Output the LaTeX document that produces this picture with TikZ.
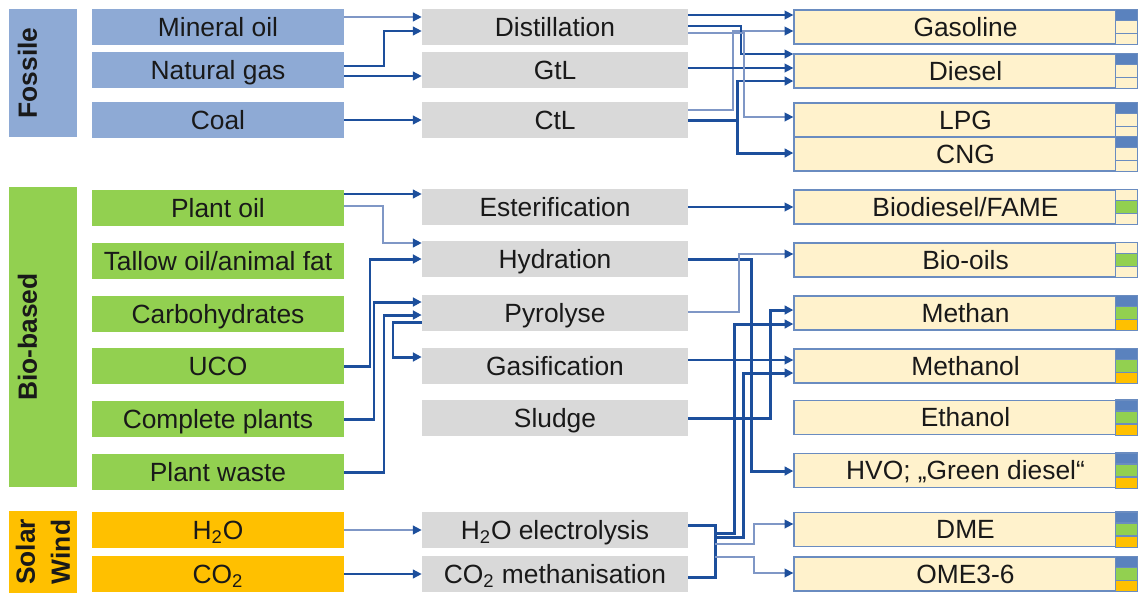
\documentclass[tikz,border=0pt]{standalone}
\usepackage{fontspec}
\setmainfont{Liberation Sans}
\usepackage{tikz}
\usetikzlibrary{arrows.meta}
\definecolor{fossil}{HTML}{8EAAD5}
\definecolor{bio}{HTML}{92D050}
\definecolor{solar}{HTML}{FFC000}
\definecolor{procgray}{HTML}{D9D9D9}
\definecolor{cream}{HTML}{FFF2CC}
\definecolor{prodline}{HTML}{6A8CC0}
\definecolor{mixblue}{HTML}{5A82BE}
\definecolor{linkblue}{HTML}{1D4F9C}
\definecolor{linklight}{HTML}{7F97C6}

% three cells on the right of a fuel box: fossil / bio / solar share
\newcommand{\fuelmix}[4]{%
  \draw[mixcell, fill=#2] ([xshift=-0.44cm]#1.north east) rectangle ([yshift=-0.2267cm]#1.north east);
  \draw[mixcell, fill=#3] ([xshift=-0.44cm, yshift=-0.2267cm]#1.north east) rectangle ([yshift=0.2267cm]#1.south east);
  \draw[mixcell, fill=#4] ([xshift=-0.44cm, yshift=0.2267cm]#1.south east) rectangle (#1.south east);
}

\begin{document}
\begin{tikzpicture}[x=0.02cm, y=-0.02cm,
    every node/.style={font=\fontsize{15}{18}\selectfont, inner sep=0pt, text=black!90},
    cat/.style={rotate=90, minimum height=1.36cm, font=\fontsize{15}{18}\selectfont\bfseries},
    src/.style={minimum width=5.04cm, minimum height=0.72cm, text height=10.7pt, text depth=0pt},
    proc/.style={fill=procgray, minimum width=5.32cm, minimum height=0.72cm, text height=10.7pt, text depth=0pt},
    fuel/.style={draw=prodline, fill=cream, line width=0.8pt, minimum width=6.86cm, minimum height=0.68cm, text height=10.7pt, text depth=0pt},
    mixcell/.style={draw=prodline, line width=0.8pt},
    link/.style={draw=linkblue, line width=0.9pt, -{Triangle[length=5pt, width=5pt, color=linkblue]}},
    heavy/.style={line width=1.7pt},
    pale/.style={draw=linklight},
    bus/.style={draw=linkblue, line width=1.7pt}]
    \useasboundingbox (0,0) rectangle (1139,596);

    % groups
    \node[cat, fill=fossil, minimum width=2.56cm, text height=10.7pt, text depth=17.6pt] (fossile) at (43,73) {Fossile};
    \node[cat, fill=bio, minimum width=6.0cm, text height=10.7pt, text depth=17.6pt] (biobased) at (43,337) {Bio-based};
    \node[cat, fill=solar, minimum width=1.64cm, align=center, font=\fontsize{15}{20}\selectfont\bfseries] (solarwind) at (43,552) {Solar\\Wind};

    % feedstocks
    \node[src, fill=fossil] (mineral) at (218,27) {Mineral oil};
    \node[src, fill=fossil] (natgas) at (218,70) {Natural gas};
    \node[src, fill=fossil] (coal) at (218,120) {Coal};
    \node[src, fill=bio] (plantoil) at (218,208) {Plant oil};
    \node[src, fill=bio] (tallow) at (218,261) {Tallow oil/animal fat};
    \node[src, fill=bio] (carbo) at (218,314) {Carbohydrates};
    \node[src, fill=bio] (uco) at (218,366) {UCO};
    \node[src, fill=bio] (plants) at (218,419) {Complete plants};
    \node[src, fill=bio] (waste) at (218,472) {Plant waste};
    \node[src, fill=solar] (water) at (218,530) {H\textsubscript{2}O};
    \node[src, fill=solar] (carbon) at (218,574) {CO\textsubscript{2}};

    % processes
    \node[proc] (distil) at (555,27) {Distillation};
    \node[proc] (gtl) at (555,70) {GtL};
    \node[proc] (ctl) at (555,120) {CtL};
    \node[proc] (ester) at (555,207) {Esterification};
    \node[proc] (hydra) at (555,259) {Hydration};
    \node[proc] (pyro) at (555,313) {Pyrolyse};
    \node[proc] (gasif) at (555,366) {Gasification};
    \node[proc] (sludge) at (555,418) {Sludge};
    \node[proc] (electro) at (555,530) {H\textsubscript{2}O electrolysis};
    \node[proc] (methanis) at (555,574) {CO\textsubscript{2} methanisation};

    % fuels
    \node[fuel] (gasoline) at (965.5,27) {Gasoline};
    \node[fuel] (diesel) at (965.5,71) {Diesel};
    \node[fuel] (lpg) at (965.5,120) {LPG};
    \node[fuel] (cng) at (965.5,154) {CNG};
    \node[fuel] (biodiesel) at (965.5,207) {Biodiesel/FAME};
    \node[fuel] (biooils) at (965.5,260) {Bio-oils};
    \node[fuel] (methane) at (965.5,313) {Methan};
    \node[fuel] (methanol) at (965.5,366) {Methanol};
    \node[fuel] (ethanol) at (965.5,417.5) {Ethanol};
    \node[fuel] (hvo) at (965.5,470.5) {HVO; „Green diesel“};
    \node[fuel] (dme) at (965.5,529.5) {DME};
    \node[fuel] (ome) at (965.5,574) {OME3-6};
    \fuelmix{gasoline}{mixblue}{cream}{cream}
    \fuelmix{diesel}{mixblue}{cream}{cream}
    \fuelmix{lpg}{mixblue}{cream}{cream}
    \fuelmix{cng}{mixblue}{cream}{cream}
    \fuelmix{biodiesel}{cream}{bio}{cream}
    \fuelmix{biooils}{cream}{bio}{cream}
    \fuelmix{methane}{mixblue}{bio}{solar}
    \fuelmix{methanol}{mixblue}{bio}{solar}
    \fuelmix{ethanol}{mixblue}{bio}{solar}
    \fuelmix{hvo}{mixblue}{bio}{solar}
    \fuelmix{dme}{mixblue}{bio}{solar}
    \fuelmix{ome}{mixblue}{bio}{solar}

    % fossil feedstocks -> processes
    \draw[link, pale] (mineral.east |- 0,17) -- (distil.west |- 0,17);
    \draw[link] (natgas.east |- 0,66) -| (384,31) -- (distil.west |- 0,31);
    \draw[link] (natgas.east |- 0,76) -- (gtl.west |- 0,76);
    \draw[link] (coal) -- (ctl);
    % fossil processes -> fuels
    \draw[link] (distil.east |- 0,15) -- (gasoline.west |- 0,15);
    \draw[link, pale] (ctl.east |- 0,110) -| (733,31) -- (gasoline.west |- 0,31);
    \draw[link] (distil.east |- 0,26) -| (741,54) -- (diesel.west |- 0,54);
    \draw[link] (gtl.east |- 0,68) -- (diesel.west |- 0,68);
    \draw[link, heavy] (ctl.east |- 0,120) -| (737,81) -- (diesel.west |- 0,81);
    \draw[link, pale] (distil.east |- 0,33) -| (744,117) -- (lpg.west |- 0,117);
    \draw[link, heavy] (ctl.east |- 0,120) -| (737,153) -- (cng.west |- 0,153);

    % bio feedstocks -> processes
    \draw[link] (plantoil.east |- 0,194) -- (ester.west |- 0,194);
    \draw[link, pale] (plantoil.east |- 0,206) -| (383,243) -- (hydra.west |- 0,243);
    \draw[link, heavy] (uco.east) -| (370,259) -- (hydra.west |- 0,259);
    \draw[link, heavy] (plants.east) -| (374,302) -- (pyro.west |- 0,302);
    \draw[link, heavy] (waste.east) -| (384,315) -- (pyro.west |- 0,315);
    \draw[link, heavy] (pyro.west |- 0,322) -| (393,357) -- (gasif.west |- 0,357);
    % bio processes -> fuels
    \draw[link] (ester) -- (biodiesel);
    \draw[link, heavy] (hydra.east) -| (751,471) -- (hvo.west |- 0,471);
    \draw[link, pale] (pyro.east |- 0,312) -| (739,254) -- (biooils.west |- 0,254);
    \draw[link] (gasif.east |- 0,360) -- (methanol.west |- 0,360);
    \draw[link, heavy] (sludge.east) -| (770,310) -- (methane.west |- 0,310);

    % solar / wind
    \draw[link, pale] (water) -- (electro);
    \draw[link] (carbon) -- (methanis);
    \draw[bus] (electro.east |- 0,525) -| (715,577) -- (methanis.east |- 0,577);
    \coordinate (hubA) at (715,533);
    \coordinate (hubB) at (715,537);
    \coordinate (hubC) at (715,544);
    \coordinate (hubD) at (715,557);
    \draw[link, heavy] (hubA) -| (734,324) -- (methane.west |- 0,324);
    \draw[link, heavy] (hubB) -| (743,373) -- (methanol.west |- 0,373);
    \draw[link, pale] (hubC) -| (754,524) -- (dme.west |- 0,524);
    \draw[link, pale] (hubD) -| (754,573) -- (ome.west |- 0,573);
\end{tikzpicture}
\end{document}
